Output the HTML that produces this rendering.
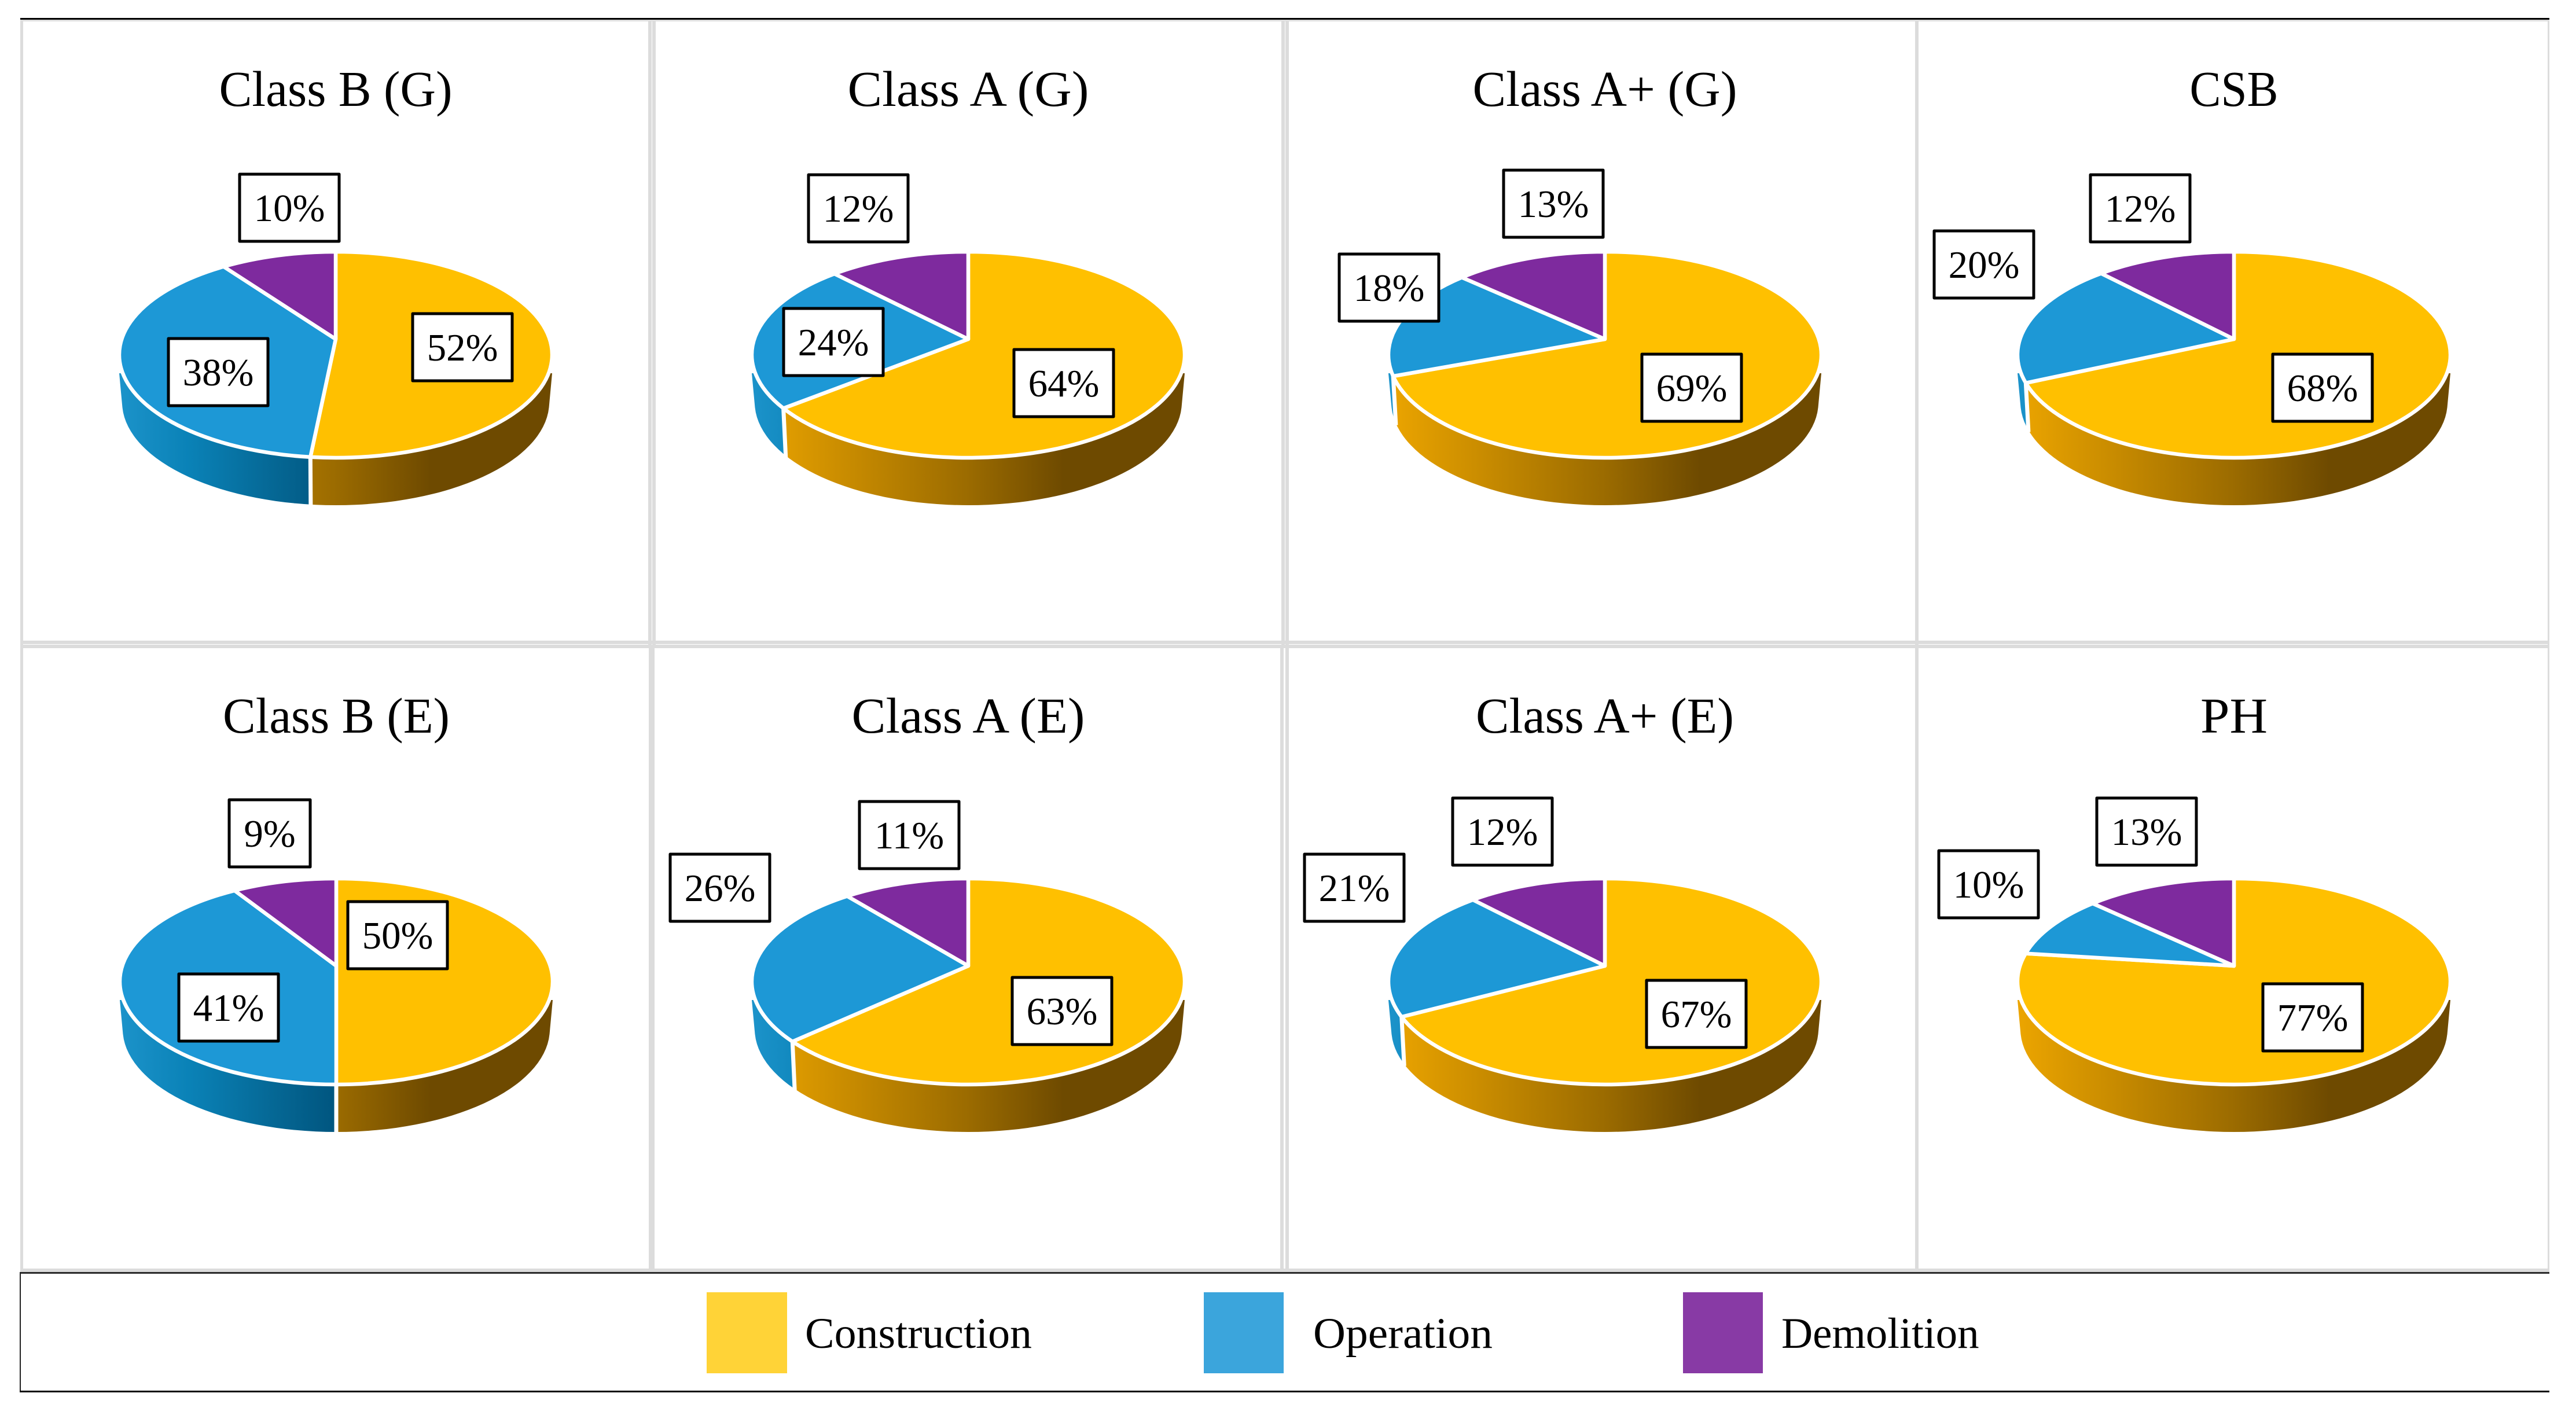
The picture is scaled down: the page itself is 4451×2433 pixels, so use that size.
<!DOCTYPE html>
<html lang="en">
<head>
<meta charset="utf-8">
<title>Pie charts by building class</title>
<style>
html,body{margin:0;padding:0;background:#fff;width:4451px;height:2433px;overflow:hidden}
svg{display:block}
text{font-family:"Liberation Serif",serif;fill:#000}
</style>
</head>
<body>
<svg id="chart" xmlns="http://www.w3.org/2000/svg" width="4451" height="2433" viewBox="0 0 4451 2433">
<defs>
<linearGradient id="gold-side" x1="0" y1="0" x2="1" y2="0">
<stop offset="0" stop-color="#eca500"/><stop offset="0.5" stop-color="#9b6b00"/><stop offset="0.72" stop-color="#6e4a00"/><stop offset="1" stop-color="#6e4a00"/>
</linearGradient>
<linearGradient id="blue-side" x1="0" y1="0" x2="1" y2="0">
<stop offset="0" stop-color="#1c93ca"/><stop offset="0.16" stop-color="#0a82b7"/><stop offset="0.36" stop-color="#056794"/><stop offset="0.5" stop-color="#00557f"/><stop offset="1" stop-color="#00557f"/>
</linearGradient>
</defs>
<g id="grid" fill="#dcdcdc">
<rect x="35" y="34" width="4370" height="3"/>
<rect x="35" y="34" width="5" height="2165"/>
<rect x="4402" y="34" width="3" height="2165"/>
<rect x="35" y="1107" width="4370" height="6"/>
<rect x="35" y="1114" width="4370" height="6"/>
<rect x="35" y="2192" width="4370" height="6"/>
<rect x="1120" y="34" width="6" height="1086"/>
<rect x="1127" y="34" width="6" height="1080"/>
<rect x="1121" y="1114" width="10" height="1080"/>
<rect x="2214" y="34" width="6" height="1080"/>
<rect x="2221" y="34" width="6" height="1080"/>
<rect x="2212" y="1114" width="6" height="1080"/>
<rect x="2221" y="1114" width="6" height="1080"/>
<rect x="3309" y="34" width="6" height="2160"/>
</g>
<rect x="35" y="31" width="4370" height="3" fill="#000"/>
<rect x="34" y="2198" width="4371" height="3" fill="#2a2a2a"/>
<rect x="34" y="2200" width="2" height="205" fill="#222"/>
<rect x="34" y="2403" width="4371" height="3" fill="#000"/>
<g id="pies"></g>
<g id="legend">
<g>
<rect x="1221" y="2233" width="139" height="140" fill="#ffd337"/>
<text x="1391" y="2329" font-size="75" textLength="392" lengthAdjust="spacingAndGlyphs">Construction</text>
</g>
<g>
<rect x="2080" y="2233" width="138" height="140" fill="#3ba5dc"/>
<text x="2269" y="2329" font-size="75" textLength="310" lengthAdjust="spacingAndGlyphs">Operation</text>
</g>
<g>
<rect x="2908" y="2233" width="138" height="140" fill="#883aa5"/>
<text x="3078" y="2329" font-size="75">Demolition</text>
</g>
</g>
</svg>
<script>
// Chart data
const panelTitles = ["Class B (G)", "Class A (G)", "Class A+ (G)", "CSB", "Class B (E)", "Class A (E)", "Class A+ (E)", "PH"];
const constructionShare = [51.6, 64.3, 69.4, 68.3, 50, 63.2, 67.2, 77];
const operationShare = [38.4, 23.5, 17.5, 19.6, 41, 25.9, 20.8, 10];
const demolitionShare = [10, 12.2, 13.2, 12.1, 9, 10.9, 12, 13];

// Layout, separate from the data
const labelLayout = [
  [[799, 600], [377, 643], [500, 359]],
  [[1838, 662], [1440, 591], [1483, 360]],
  [[2923, 670], [2400, 497], [2684, 352]],
  [[4013, 670], [3428, 457], [3698, 360]],
  [[687, 1616], [395, 1741], [466, 1440]],
  [[1835, 1747], [1244, 1534], [1571, 1443]],
  [[2931, 1752], [2340, 1534], [2596, 1437]],
  [[3996, 1758], [3436, 1528], [3709, 1437]]
];
const titleFitWidth = [403, 417, 457, 153, 392, 403, 446, 116];
const PANEL_CX = [580, 1673, 2773, 3860, 581, 1673, 2773, 3860];
const ROW_DY = [0, 1083];
const RX = 374, APEX_Y = 586, TOP_Y = 435, BOTTOM_Y = 791, DEPTH = 82;
const TITLE_Y = 183;
const NS = "http://www.w3.org/2000/svg";
const SLICE_COLORS = ["#ffc000", "#1d98d6", "#7e2a9e"];

const upDist = APEX_Y - TOP_Y, downDist = BOTTOM_Y - APEX_Y;
const K = (downDist - upDist) / (downDist + upDist);
const A = 2 * upDist * downDist / (downDist + upDist);
const B = RX * Math.sqrt(1 - K * K);
const RY = (BOTTOM_Y - TOP_Y) / 2;
const CY = (BOTTOM_Y + TOP_Y) / 2;

// Axis function: share of the pie (percent, clockwise from 12 o'clock) to a rim point in perspective
function rimPoint(cx, dy, percent) {
  const t = percent / 100 * 2 * Math.PI;
  const u = -Math.cos(t);
  const w = 1 - K * u;
  return { x: cx + B * Math.sin(t) / w, y: dy + APEX_Y + A * u / w };
}
function el(tag, attrs, parent) {
  const n = document.createElementNS(NS, tag);
  for (const k in attrs) n.setAttribute(k, attrs[k]);
  parent.appendChild(n);
  return n;
}
const svg = document.getElementById("chart");
const defs = svg.querySelector("defs");
const root = document.getElementById("pies");

panelTitles.forEach(function (title, i) {
  const cx = PANEL_CX[i], dy = ROW_DY[Math.floor(i / 4)];
  const cy = CY + dy;
  const apex = { x: cx, y: APEX_Y + dy };
  const total = constructionShare[i] + operationShare[i] + demolitionShare[i];
  const p1 = constructionShare[i] / total * 100;
  const p2 = p1 + operationShare[i] / total * 100;

  const g = el("g", {}, root);
  
  

  const t = el("text", { x: cx, y: TITLE_Y + dy, "font-size": 87, "text-anchor": "middle", textLength: titleFitWidth[i], lengthAdjust: "spacingAndGlyphs" }, g);
  
  
  t.textContent = title;

  // Side wall of the pie
  const sideStart = cy + 32, sideEnd = cy + 91;
  const bottomRx = RX - 5, bottomCy = cy + DEPTH, bottomRy = RY;
  const bottomEdge = bottomRx * Math.sqrt(1 - Math.pow((sideEnd - bottomCy) / bottomRy, 2));
  const sideD = "M" + (cx - RX) + " " + sideStart + " L" + (cx - bottomEdge) + " " + sideEnd +
    " A" + bottomRx + " " + bottomRy + " 0 0 0 " + (cx + bottomEdge) + " " + sideEnd +
    " L" + (cx + RX) + " " + sideStart + " Z";
  const split = rimPoint(cx, dy, p1);
  const showSplit = split.y > sideStart && split.x < cx + RX;
  const bx = cx + (split.x - cx) * 0.987;
  const rel = (bx - cx) / bottomRx;
  const by = bottomCy + bottomRy * Math.sqrt(Math.max(0, 1 - rel * rel));
  const clipTop = cy - 320, clipBottom = cy + 420;
  const ex = bx + (bx - split.x) * (clipBottom - by) / Math.max(1, by - split.y);

  if (showSplit) {
    const clipB = el("clipPath", { id: "clip-blue-" + i }, defs);
    el("polygon", { points: (cx - RX - 40) + "," + clipTop + " " + split.x + "," + clipTop + " " + split.x + "," + split.y + " " + ex + "," + clipBottom + " " + (cx - RX - 40) + "," + clipBottom }, clipB);
    const sb = el("path", { d: sideD, fill: "url(#blue-side)", "clip-path": "url(#clip-blue-" + i + ")" }, g);
    
    
    const clipY = el("clipPath", { id: "clip-gold-" + i }, defs);
    el("polygon", { points: (cx + RX + 40) + "," + clipTop + " " + split.x + "," + clipTop + " " + split.x + "," + split.y + " " + ex + "," + clipBottom + " " + (cx + RX + 40) + "," + clipBottom }, clipY);
    const sy = el("path", { d: sideD, fill: "url(#gold-side)", "clip-path": "url(#clip-gold-" + i + ")" }, g);
    
    
    const ln = el("line", { x1: split.x, y1: split.y, x2: bx, y2: by + 3, stroke: "#fff", "stroke-width": 7 }, g);
    
    
  } else {
    const sy = el("path", { d: sideD, fill: "url(#gold-side)" }, g);
    
    
  }

  // Top face slices
  const ranges = [[0, p1], [p1, p2], [p2, 100]];
  const sliceNames = ["construction-slice", "operation-slice", "demolition-slice"];
  ranges.forEach(function (r, s) {
    const a = rimPoint(cx, dy, r[0]), b = rimPoint(cx, dy, r[1]);
    const large = (r[1] - r[0]) > 50 ? 1 : 0;
    const d = "M" + apex.x + " " + apex.y + " L" + a.x + " " + a.y +
      " A" + RX + " " + RY + " 0 " + large + " 1 " + b.x + " " + b.y + " Z";
    const p = el("path", { d: d, fill: SLICE_COLORS[s], stroke: "#fff", "stroke-width": 6.5, "stroke-linejoin": "round" }, g);
    
    
  });

  // Labels
  const values = [constructionShare[i], operationShare[i], demolitionShare[i]];
  const labelNames = ["construction-label", "operation-label", "demolition-label"];
  values.forEach(function (v, s) {
    const c = labelLayout[i][s];
    const shown = Math.round(v);
    const w = String(shown).length === 1 ? 140 : 172;
    const box = el("rect", { x: c[0] - w / 2, y: c[1] - 58, width: w, height: 116, fill: "#fff", stroke: "#000", "stroke-width": 5, "stroke-linejoin": "round" }, g);
    
    
    const tx = el("text", { x: c[0], y: c[1] + 23, "font-size": 67, "text-anchor": "middle" }, g);
    
    
    tx.textContent = shown + "%";
  });
});
</script>
</body>
</html>
